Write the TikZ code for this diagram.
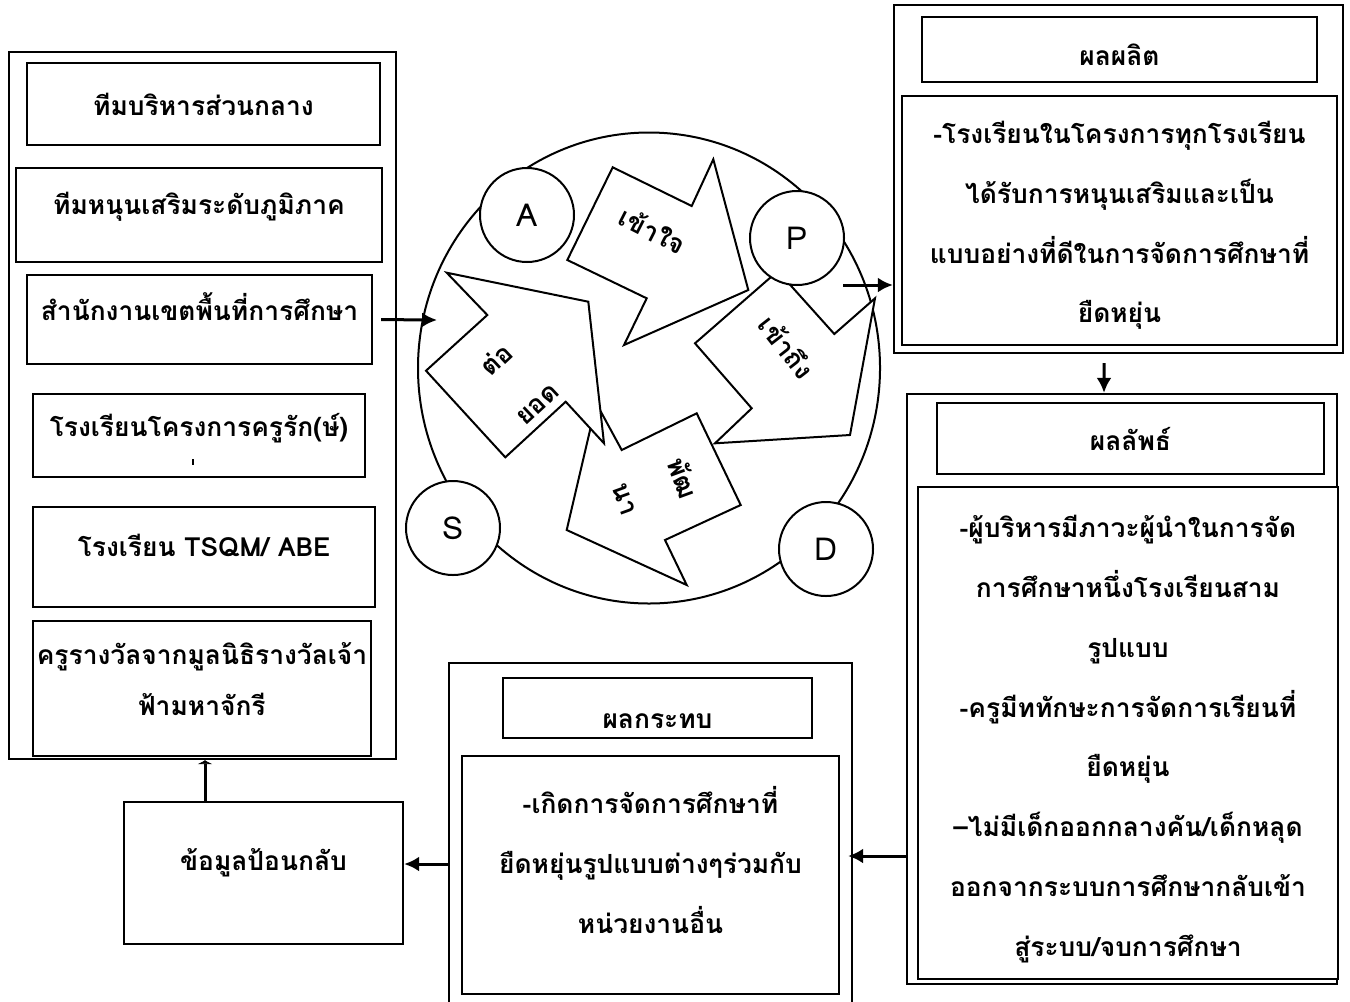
\documentclass[tikz,border=0pt]{standalone}
\usepackage{fontspec}
\setmainfont[Script=Thai]{Loma}
\usepackage{tikz}
\usetikzlibrary{arrows.meta}
\usetikzlibrary{shapes.geometric}

\begin{document}
\begin{tikzpicture}[x=0.2mm,y=-0.2mm,
    box/.style={draw,line width=0.45mm,fill=white,align=center,inner sep=0pt,font=\bfseries\fontsize{15pt}{34pt}\selectfont},
    word/.style={align=center,inner sep=0pt,font=\bfseries\fontsize{15pt}{34pt}\selectfont},
    arr/.style={line width=0.6mm,-{Latex[length=3mm,width=3mm]}},
    blk/.style={draw,line width=0.4mm,fill=white},
    ring/.style={circle,draw,line width=0.4mm,fill=white,minimum size=18.8mm,inner sep=0pt,font=\fontsize{18pt}{20pt}\selectfont}]
  \useasboundingbox (0,0) rectangle (1350,1001);

  % left column
  \node[box,minimum width=77.4mm,minimum height=141.4mm] (team) at (202.5,405.5) {};
  \node[box,minimum width=70.6mm,minimum height=16.4mm] (central) at (203.5,104) {ทีมบริหารส่วนกลาง};
  \node[box,minimum width=73.2mm,minimum height=18.8mm,label={[word,yshift=1.6mm]center:ทีมหนุนเสริมระดับภูมิภาค}] (regional) at (199,215) {};
  \node[box,minimum width=69mm,minimum height=17.8mm,label={[word,yshift=2.6mm]center:สำนักงานเขตพื้นที่การศึกษา}] (office) at (199.5,319.5) {};
  \node[box,minimum width=66.4mm,minimum height=16.6mm,label={[word,yshift=1.4mm]center:โรงเรียนโครงการครูรัก(ษ์)}] (krurak) at (199,435.5) {};
  \draw[line width=0.3mm] (193,459) -- (193,465);
  \node[box,minimum width=68.4mm,minimum height=20mm,label={[word,yshift=2.4mm]center:โรงเรียน TSQM/ ABE}] (tsqm) at (204,557) {};
  \node[box,minimum width=67.6mm,minimum height=27mm,label={[word,yshift=1.8mm,font=\bfseries\fontsize{15pt}{29pt}\selectfont]center:ครูรางวัลจากมูลนิธิรางวัลเจ้า\\ฟ้ามหาจักรี}] (award) at (202,688.5) {};
  \node[box,minimum width=55.8mm,minimum height=28.4mm,label={[word,yshift=2mm]center:ข้อมูลป้อนกลับ}] (feedback) at (263.5,873) {};

  % cycle
  \node[ellipse,draw,line width=0.4mm,minimum width=92.4mm,minimum height=94.2mm] (cycle) at (649,368) {};
  \draw[blk] (596.3,403.3) -- (621.7,450) -- (696.7,413.3) -- (740.7,505) -- (665,540) -- (686.7,585) -- (566.7,530) -- cycle;
  \draw[blk] (446.7,272.7) -- (487.3,315) -- (426,370.7) -- (505.3,457.3) -- (565.7,401.7) -- (604,443.3) -- (588.3,301.7) -- cycle;
  \draw[blk] (612.7,167.3) -- (691.7,206) -- (713.3,159.3) -- (748.3,290) -- (624,345) -- (646.7,298.3) -- (567.3,260) -- cycle;
  \draw[blk] (776.7,272) -- (695,343.3) -- (751.7,408.3) -- (715,443.3) -- (850,435) -- (875,298.3) -- (834.3,334) -- (786.7,281) -- cycle;
  \node[word,rotate=-27] (understand) at (653,230) {เข้าใจ};
  \node[word,rotate=-52] (access) at (787,347) {เข้าถึง};
  \node[word,rotate=43] (extend) at (516,381) {ต่อ\\ยอด};
  \node[word,rotate=-70] (develop) at (655,488) {พัฒ\\นา};
  \node[ring] (cA) at (527,215) {A};
  \node[ring] (cP) at (797,238) {P};
  \node[ring] (cS) at (453,528) {S};
  \node[ring] (cD) at (826,549) {D};

  % output
  \node[box,minimum width=89.8mm,minimum height=69.6mm] (output) at (1118.5,179) {};
  \node[box,minimum width=79mm,minimum height=13mm,label={[word,yshift=-1mm]center:ผลผลิต}] (outputhead) at (1119.5,49.5) {};
  \node[box,minimum width=87mm,minimum height=49.8mm,label={[word,yshift=-1mm]center:-โรงเรียนในโครงการทุกโรงเรียน\\ได้รับการหนุนเสริมและเป็น\\แบบอย่างที่ดีในการจัดการศึกษาที่\\ยืดหยุ่น}] (outputbody) at (1119.5,220.5) {};

  % outcome
  \node[box,minimum width=86mm,minimum height=118mm] (outcome) at (1122,689) {};
  \node[box,minimum width=77.4mm,minimum height=14.2mm] (outcomehead) at (1130.5,438.5) {ผลลัพธ์};
  \node[box,minimum width=84mm,minimum height=98.4mm,label={[word,yshift=-1.2mm]center:-ผู้บริหารมีภาวะผู้นำในการจัด\\การศึกษาหนึ่งโรงเรียนสาม\\รูปแบบ\\-ครูมีททักษะการจัดการเรียนที่\\ยืดหยุ่น\\–ไม่มีเด็กออกกลางคัน/เด็กหลุด\\ออกจากระบบการศึกษากลับเข้า\\สู่ระบบ/จบการศึกษา}] (outcomebody) at (1128,733) {};

  % impact
  \node[box,minimum width=80.6mm,minimum height=68.6mm] (impact) at (650.5,834.5) {};
  \node[box,minimum width=61.8mm,minimum height=12mm,label={[word,yshift=-2.6mm]center:ผลกระทบ}] (impacthead) at (657.5,708) {};
  \node[box,minimum width=75.4mm,minimum height=47.6mm,label={[word,yshift=3mm]center:-เกิดการจัดการศึกษาที่\\ยืดหยุ่นรูปแบบต่างๆร่วมกับ\\หน่วยงานอื่น}] (impactbody) at (650.5,875) {};

  % connectors
  \coordinate (cin) at (437,320);
  \coordinate (pout) at (843,285);
  \draw[arr,shorten <=1.6mm] (office.east) -- (cin);
  \draw[arr] (pout) -- (pout -| output.west);
  \draw[arr] ([xshift=-2.9mm,yshift=-1.8mm]output.south) -- ([xshift=-3.6mm]outcome.north);
  \draw[arr,shorten >=-1mm] (outcome.west |- 0,856) -- (impact.east |- 0,856);
  \draw[arr] (impact.west |- 0,864) -- (feedback.east |- 0,864);
  \draw[line width=0.6mm,-{Latex[length=0.8mm,width=3.2mm]}] (feedback.north -| 205,0) -- (team.south -| 205,0);
\end{tikzpicture}
\end{document}
